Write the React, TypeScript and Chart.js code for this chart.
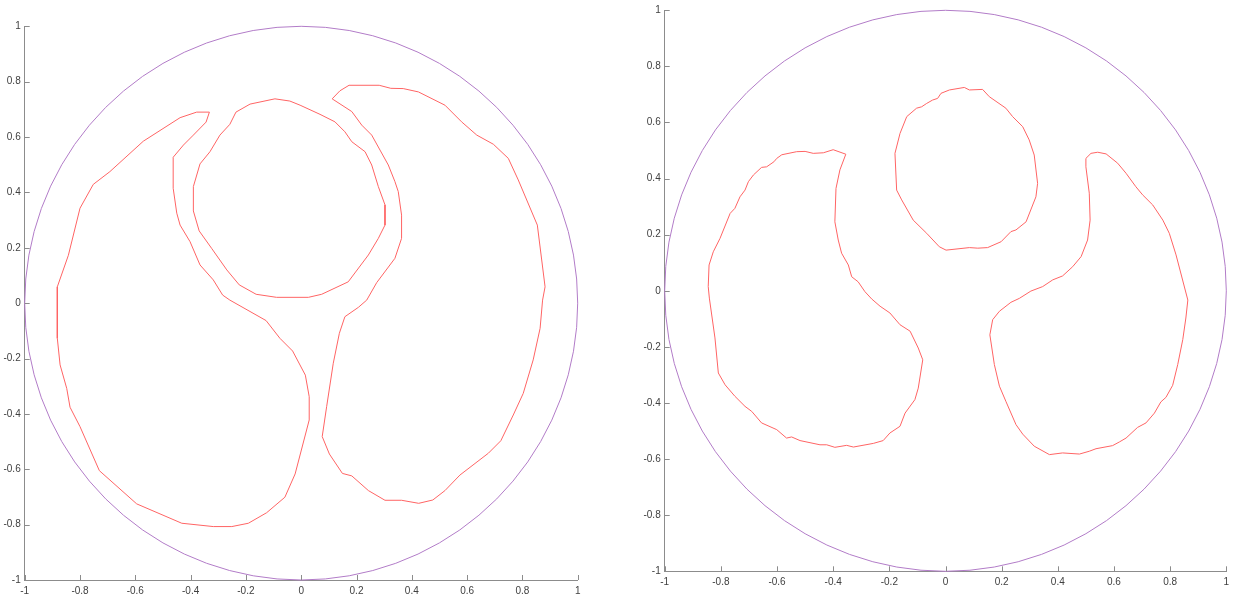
import React, { useEffect, useRef } from "react";
import { Chart, registerables } from "chart.js";

Chart.register(...registerables);

// ---------- DATA ----------
const TICK_VALUES = [-1, -0.8, -0.6, -0.4, -0.2, 0, 0.2, 0.4, 0.6, 0.8, 1];

// unit circle, 5 degree steps
const CIRCLE_X = [1, .9962, .9848, .9659, .9397, .9063, .866, .8192, .766, .7071, .6428, .5736, .5, .4226, .342, .2588, .1736, .0872, 0,
  -.0872, -.1736, -.2588, -.342, -.4226, -.5, -.5736, -.6428, -.7071, -.766, -.8192, -.866, -.9063, -.9397, -.9659, -.9848, -.9962, -1,
  -.9962, -.9848, -.9659, -.9397, -.9063, -.866, -.8192, -.766, -.7071, -.6428, -.5736, -.5, -.4226, -.342, -.2588, -.1736, -.0872, 0,
  .0872, .1736, .2588, .342, .4226, .5, .5736, .6428, .7071, .766, .8192, .866, .9063, .9397, .9659, .9848, .9962, 1];
const CIRCLE_Y = [0, .0872, .1736, .2588, .342, .4226, .5, .5736, .6428, .7071, .766, .8192, .866, .9063, .9397, .9659, .9848, .9962, 1,
  .9962, .9848, .9659, .9397, .9063, .866, .8192, .766, .7071, .6428, .5736, .5, .4226, .342, .2588, .1736, .0872, 0,
  -.0872, -.1736, -.2588, -.342, -.4226, -.5, -.5736, -.6428, -.7071, -.766, -.8192, -.866, -.9063, -.9397, -.9659, -.9848, -.9962, -1,
  -.9962, -.9848, -.9659, -.9397, -.9063, -.866, -.8192, -.766, -.7071, -.6428, -.5736, -.5, -.4226, -.342, -.2588, -.1736, -.0872, 0];

// left panel
const LEFT_INNER_RING: [number, number][] = [
  [-0.236, 0.690], [-0.185, 0.719], [-0.095, 0.738], [-0.041, 0.730], [-0.004, 0.715], [0.068, 0.682],
  [0.122, 0.655], [0.158, 0.619], [0.183, 0.583], [0.231, 0.547], [0.255, 0.499], [0.279, 0.421],
  [0.303, 0.355], [0.303, 0.282], [0.279, 0.234], [0.243, 0.174], [0.170, 0.077], [0.074, 0.032],
  [0.026, 0.021], [-0.089, 0.021], [-0.163, 0.032], [-0.224, 0.066], [-0.269, 0.120], [-0.324, 0.198],
  [-0.369, 0.261], [-0.390, 0.333], [-0.390, 0.421], [-0.366, 0.503], [-0.330, 0.547], [-0.294, 0.607],
  [-0.258, 0.646], [-0.236, 0.690],
];
const LEFT_WEST_LOBE: [number, number][] = [
  [-0.332, 0.690], [-0.378, 0.690], [-0.438, 0.670], [-0.571, 0.585], [-0.692, 0.475], [-0.752, 0.429],
  [-0.800, 0.343], [-0.842, 0.173], [-0.882, 0.059], [-0.882, -0.127], [-0.872, -0.223], [-0.848, -0.308],
  [-0.836, -0.376], [-0.800, -0.446], [-0.730, -0.605], [-0.595, -0.725], [-0.432, -0.795], [-0.318, -0.807],
  [-0.251, -0.807], [-0.191, -0.795], [-0.125, -0.757], [-0.059, -0.701], [-0.022, -0.617], [0.029, -0.422],
  [0.029, -0.338], [0.015, -0.260], [-0.031, -0.173], [-0.077, -0.127], [-0.127, -0.063], [-0.258, 0.011],
  [-0.284, 0.029], [-0.318, 0.084], [-0.366, 0.138], [-0.402, 0.222], [-0.438, 0.282], [-0.450, 0.325],
  [-0.463, 0.415], [-0.463, 0.527], [-0.426, 0.571], [-0.390, 0.607], [-0.344, 0.654], [-0.332, 0.690],
];
const LEFT_EAST_LOBE: [number, number][] = [
  [0.112, 0.738], [0.140, 0.767], [0.173, 0.787], [0.282, 0.787], [0.324, 0.776], [0.369, 0.775],
  [0.424, 0.763], [0.520, 0.715], [0.580, 0.655], [0.635, 0.607], [0.695, 0.574], [0.749, 0.523],
  [0.785, 0.445], [0.854, 0.282], [0.882, 0.059], [0.873, 0.011], [0.864, -0.091], [0.839, -0.205],
  [0.803, -0.326], [0.767, -0.404], [0.722, -0.497], [0.677, -0.542], [0.574, -0.621], [0.520, -0.677],
  [0.476, -0.711], [0.425, -0.723], [0.363, -0.712], [0.303, -0.712], [0.243, -0.677], [0.183, -0.624],
  [0.149, -0.615], [0.102, -0.545], [0.076, -0.482], [0.092, -0.374], [0.116, -0.217], [0.138, -0.109],
  [0.158, -0.049], [0.207, -0.015], [0.237, 0.011], [0.273, 0.074], [0.339, 0.162], [0.363, 0.234],
  [0.363, 0.318], [0.351, 0.403], [0.339, 0.439], [0.315, 0.499], [0.285, 0.553], [0.255, 0.607],
  [0.219, 0.643], [0.183, 0.692], [0.112, 0.738],
];

// right panel
const RIGHT_WEST_LOBE: [number, number][] = [
  [-0.355, 0.487], [-0.400, 0.503], [-0.435, 0.492], [-0.471, 0.490], [-0.500, 0.497], [-0.530, 0.496],
  [-0.583, 0.485], [-0.601, 0.472], [-0.611, 0.460], [-0.637, 0.442], [-0.655, 0.440], [-0.684, 0.413],
  [-0.702, 0.389], [-0.714, 0.359], [-0.732, 0.335], [-0.750, 0.294], [-0.767, 0.276], [-0.803, 0.187],
  [-0.827, 0.139], [-0.842, 0.092], [-0.845, 0.015], [-0.841, -0.026], [-0.821, -0.168], [-0.809, -0.293],
  [-0.785, -0.335], [-0.750, -0.376], [-0.714, -0.412], [-0.690, -0.430], [-0.655, -0.471], [-0.601, -0.495],
  [-0.566, -0.525], [-0.548, -0.521], [-0.518, -0.534], [-0.447, -0.549], [-0.423, -0.549], [-0.394, -0.558],
  [-0.352, -0.551], [-0.328, -0.557], [-0.257, -0.544], [-0.222, -0.534], [-0.198, -0.507], [-0.162, -0.483],
  [-0.144, -0.436], [-0.109, -0.388], [-0.097, -0.347], [-0.081, -0.246], [-0.097, -0.204], [-0.126, -0.144],
  [-0.162, -0.121], [-0.198, -0.079], [-0.233, -0.055], [-0.263, -0.029], [-0.287, -0.003], [-0.311, 0.032],
  [-0.334, 0.050], [-0.346, 0.092], [-0.370, 0.134], [-0.382, 0.181], [-0.394, 0.246], [-0.390, 0.365],
  [-0.376, 0.431], [-0.355, 0.487],
];
const RIGHT_CENTER_RING: [number, number][] = [
  [-0.016, 0.704], [0.014, 0.716], [0.067, 0.725], [0.085, 0.716], [0.132, 0.718], [0.156, 0.692],
  [0.215, 0.651], [0.239, 0.621], [0.275, 0.585], [0.298, 0.538], [0.316, 0.484], [0.328, 0.383],
  [0.322, 0.335], [0.287, 0.246], [0.251, 0.217], [0.233, 0.211], [0.198, 0.175], [0.150, 0.154],
  [0.115, 0.152], [0.085, 0.154], [0.002, 0.145], [-0.022, 0.157], [-0.067, 0.205], [-0.115, 0.252],
  [-0.156, 0.324], [-0.174, 0.359], [-0.180, 0.490], [-0.162, 0.561], [-0.138, 0.621], [-0.103, 0.651],
  [-0.085, 0.656], [-0.067, 0.668], [-0.046, 0.680], [-0.028, 0.686], [-0.016, 0.704],
];
const RIGHT_EAST_LOBE: [number, number][] = [
  [0.500, 0.472], [0.518, 0.490], [0.542, 0.494], [0.572, 0.488], [0.613, 0.455], [0.643, 0.419],
  [0.678, 0.371], [0.702, 0.342], [0.738, 0.306], [0.774, 0.252], [0.797, 0.205], [0.821, 0.128],
  [0.863, -0.033], [0.856, -0.097], [0.845, -0.174], [0.827, -0.263], [0.809, -0.337], [0.785, -0.380],
  [0.767, -0.396], [0.744, -0.436], [0.714, -0.471], [0.684, -0.487], [0.643, -0.525], [0.619, -0.539],
  [0.595, -0.552], [0.536, -0.563], [0.512, -0.572], [0.477, -0.582], [0.417, -0.578], [0.370, -0.584],
  [0.316, -0.554], [0.275, -0.511], [0.251, -0.477], [0.215, -0.394], [0.192, -0.340], [0.174, -0.263],
  [0.158, -0.157], [0.168, -0.103], [0.192, -0.073], [0.233, -0.041], [0.263, -0.027], [0.304, -0.001],
  [0.346, 0.015], [0.382, 0.039], [0.417, 0.053], [0.453, 0.086], [0.483, 0.122], [0.506, 0.181],
  [0.515, 0.252], [0.512, 0.348], [0.500, 0.442], [0.500, 0.472],
];

// ---------- STYLE ----------
const RED = "rgb(255,100,100)";
const PURPLE = "rgb(178,124,200)";
const AXIS_COLOR = "#8c8c8c";
const LABEL_COLOR = "#404040";
const FONT_FAMILY = "'Liberation Sans', Arial, Helvetica, sans-serif";
const TICK_LEN = 5;

const inwardTicks = {
  id: "inwardTicks",
  afterDraw(chart: any) {
    const { ctx, chartArea } = chart;
    const xs = chart.scales.x;
    const ys = chart.scales.y;
    ctx.save();
    ctx.strokeStyle = AXIS_COLOR;
    ctx.lineWidth = 1;
    ctx.beginPath();
    xs.ticks.forEach((t: any) => {
      const px = Math.round(xs.getPixelForValue(t.value)) + 0.5;
      ctx.moveTo(px, chartArea.bottom);
      ctx.lineTo(px, chartArea.bottom - TICK_LEN);
    });
    ys.ticks.forEach((t: any) => {
      const py = Math.round(ys.getPixelForValue(t.value)) + 0.5;
      ctx.moveTo(chartArea.left, py);
      ctx.lineTo(chartArea.left + TICK_LEN, py);
    });
    ctx.stroke();
    ctx.restore();
  },
};

type PanelProps = {
  curves: [number, number][][];
  left: number;
  width: number;
  height: number;
  padTop: number;
  padRight: number;
  yAxisW: number;
  xAxisH: number;
};

function Panel({ curves, left, width, height, padTop, padRight, yAxisW, xAxisH }: PanelProps) {
  const ref = useRef<HTMLCanvasElement | null>(null);
  useEffect(() => {
    if (!ref.current) return;
    const circle = CIRCLE_X.map((x, i) => ({ x, y: CIRCLE_Y[i] }));
    const datasets: any[] = [
      {
        data: circle,
        borderColor: PURPLE,
        borderWidth: 1,
        pointRadius: 0,
        showLine: true,
        fill: false,
        clip: false,
        tension: 0,
      },
      ...curves.map((c) => ({
        data: c.map(([x, y]) => ({ x, y })),
        borderColor: RED,
        borderWidth: 1,
        pointRadius: 0,
        showLine: true,
        fill: false,
        clip: false,
        tension: 0,
      })),
    ];
    const tickCfg = (padding: number) => ({
      padding,
      color: LABEL_COLOR,
      font: { family: FONT_FAMILY, size: 10 },
      maxRotation: 0,
      autoSkip: false,
      callback: (v: any) => String(v),
    });
    const chart = new Chart(ref.current, {
      type: "scatter",
      data: { datasets },
      options: {
        responsive: false,
        animation: false,
        events: [],
        layout: { padding: { left: 0, top: padTop, right: padRight, bottom: 0 } },
        plugins: { legend: { display: false }, tooltip: { enabled: false } },
        scales: {
          x: {
            type: "linear",
            min: -1,
            max: 1,
            afterBuildTicks: (s: any) => {
              s.ticks = TICK_VALUES.map((v) => ({ value: v }));
            },
            afterFit: (s: any) => {
              s.height = xAxisH;
            },
            grid: { display: false, drawTicks: false },
            border: { display: true, color: AXIS_COLOR, width: 1 },
            ticks: tickCfg(5),
          },
          y: {
            type: "linear",
            min: -1,
            max: 1,
            afterBuildTicks: (s: any) => {
              s.ticks = TICK_VALUES.map((v) => ({ value: v }));
            },
            afterFit: (s: any) => {
              s.width = yAxisW;
            },
            grid: { display: false, drawTicks: false },
            border: { display: true, color: AXIS_COLOR, width: 1 },
            ticks: tickCfg(4),
          },
        },
      } as any,
      plugins: [inwardTicks],
    });
    return () => chart.destroy();
  }, []);
  return (
    <canvas
      ref={ref}
      width={width}
      height={height}
      style={{ position: "absolute", left, top: 0, width, height, display: "block" }}
    />
  );
}

export default function App() {
  return (
    <div style={{ position: "fixed", left: 0, top: 0, width: 1236, height: 598, background: "#fff" }}>
      <Panel
        curves={[LEFT_INNER_RING, LEFT_WEST_LOBE, LEFT_EAST_LOBE]}
        left={0}
        width={600}
        height={598}
        padTop={26.3}
        padRight={22.3}
        yAxisW={24.7}
        xAxisH={18}
      />
      <Panel
        curves={[RIGHT_WEST_LOBE, RIGHT_CENTER_RING, RIGHT_EAST_LOBE]}
        left={620}
        width={616}
        height={598}
        padTop={10.3}
        padRight={9.7}
        yAxisW={44.7}
        xAxisH={26.7}
      />
    </div>
  );
}
